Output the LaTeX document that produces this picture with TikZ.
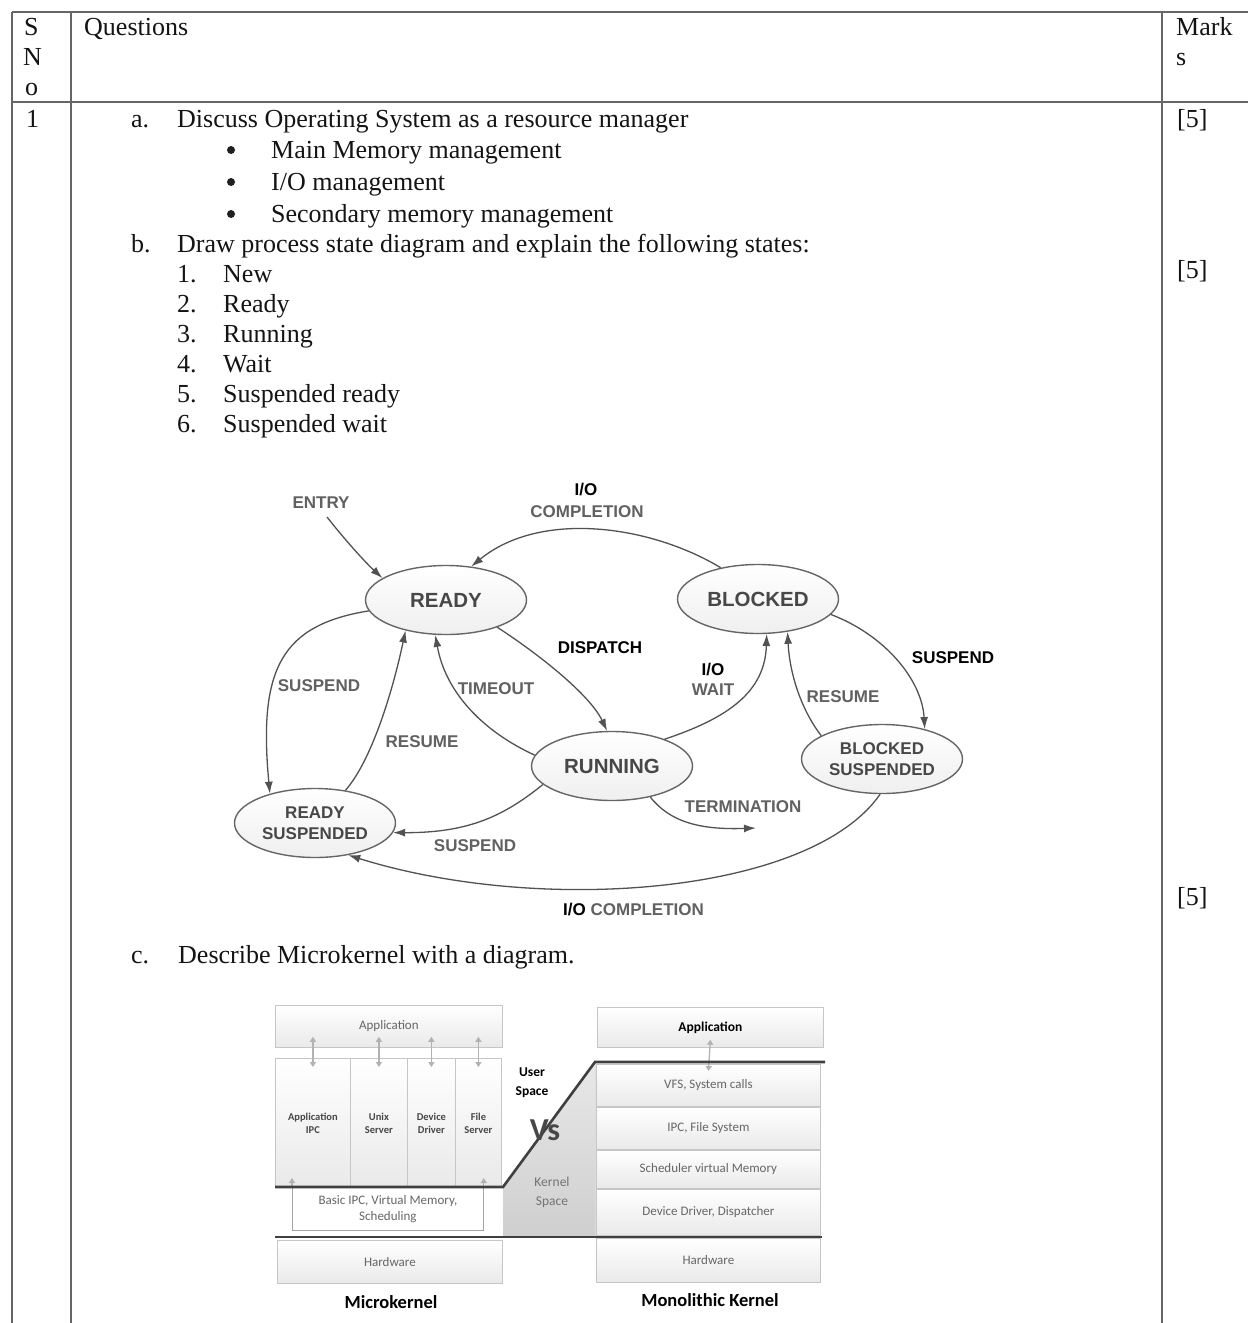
\documentclass[tikz,border=0pt]{standalone}
\usepackage{fontspec}
\setmainfont{Liberation Serif}
\newfontfamily\arialf{Liberation Sans}
\newfontfamily\calf{Carlito}
\usetikzlibrary{shapes.geometric,arrows.meta}

\begin{document}
\begin{tikzpicture}[x=1pt,y=-1pt,
  body/.style={anchor=base west, inner sep=0pt, text=black!92,
    font=\fontsize{26}{31}\selectfont},
  dot/.style={circle, fill=black!88, inner sep=0pt, minimum size=8pt},
  rule/.style={draw=black!60, line width=1.6pt},
  state/.style={ellipse, draw=black!60, line width=1.4pt, inner sep=0pt,
    top color=white, bottom color=blue!4!gray!12,
    minimum width=161pt, minimum height=69pt, align=center, text=black!72,
    font=\arialf\bfseries\fontsize{20.5}{22}\selectfont},
  substate/.style={state, font=\arialf\bfseries\fontsize{17}{21}\selectfont},
  lab/.style={inner sep=0pt, text=black!62, font=\arialf\bfseries\fontsize{17}{20}\selectfont},
  blab/.style={lab, text=black},
  arr/.style={draw=black!68, line width=1.3pt, -{Latex[length=12pt,width=8pt]}},
  layer/.style={draw=gray!45, line width=0.8pt, anchor=north west, inner sep=0pt,
    top color=white, bottom color=gray!17, text=black!60,
    font=\calf\fontsize{13}{16}\selectfont, align=center},
  colbox/.style={layer, font=\calf\bfseries\fontsize{10.5}{13}\selectfont, text=black!72},
  dbl/.style={draw=gray!60, line width=1.3pt, {Triangle[length=5pt,width=6pt]}-{Triangle[length=5pt,width=6pt]}},
  sgl/.style={draw=gray!60, line width=1.3pt, -{Triangle[length=5pt,width=6pt]}},
  divider/.style={draw=gray!50!black, line width=2.6pt}
]
\useasboundingbox (0,0) rectangle (1248,1323);
\fill[white] (0,0) rectangle (1248,1323);

% ---------- table frame ----------
\draw[rule] (12,12) -- (1248,12);
\draw[rule] (12,102) -- (1248,102);
\draw[rule] (12,12) -- (12,1323);
\draw[rule] (71,12) -- (71,1323);
\draw[rule] (1162,12) -- (1162,1323);

% header
\node[body] (hs) at (24,35) {S};
\node[body] (hn) at (23,65) {N};
\node[body] (ho) at (25,95) {o};
\node[body] (hq) at (84,35) {Questions};
\node[body] (hm) at (1176,35) {Mark};
\node[body] (hm2) at (1176,65) {s};

% row 1
\node[body] (sno) at (26,127) {1};
\node[body] (m1) at (1177,127) {[5]};
\node[body] (m2) at (1177,278) {[5]};
\node[body] (m3) at (1177,905) {[5]};

\node[body] (la) at (131,127) {a.};
\node[body] (ta) at (177,127) {Discuss Operating System as a resource manager};
\node[dot] (b1) at (231,150) {};
\node[body] (t1) at (271,158) {Main Memory management};
\node[dot] (b2) at (231,182) {};
\node[body] (t2) at (271,190) {I/O management};
\node[dot] (b3) at (231,214) {};
\node[body] (t3) at (271,222) {Secondary memory management};

\node[body] (lb) at (131,252) {b.};
\node[body] (tb) at (177,252) {Draw process state diagram and explain the following states:};
\node[body] (n1) at (177,282) {1.};  \node[body] (s1) at (223,282) {New};
\node[body] (n2) at (177,312) {2.};  \node[body] (s2) at (223,312) {Ready};
\node[body] (n3) at (177,342) {3.};  \node[body] (s3) at (223,342) {Running};
\node[body] (n4) at (177,372) {4.};  \node[body] (s4) at (223,372) {Wait};
\node[body] (n5) at (177,402) {5.};  \node[body] (s5) at (223,402) {Suspended ready};
\node[body] (n6) at (177,432) {6.};  \node[body] (s6) at (223,432) {Suspended wait};

\node[body] (lc) at (131,963) {c.};
\node[body] (tc) at (178,963) {Describe Microkernel with a diagram.};

% ---------- process state diagram ----------
\node[state] (ready) at (446,600) {READY};
\node[state] (blocked) at (758,599) {BLOCKED};
\node[state] (running) at (612,766) {RUNNING};
\node[substate] (rsus) at (315,823) {READY\\SUSPENDED};
\node[substate] (bsus) at (882,759) {BLOCKED\\SUSPENDED};

\node[lab] (entry) at (321,503) {ENTRY};
\coordinate (entrystart) at (327,517);
\coordinate (termend) at (756,828);

\draw[arr] (entrystart) .. controls (345,540) and (365,562) .. (ready.161);
\draw[arr] (blocked.140) .. controls (650,525) and (540,510) .. (ready.53);
\draw[arr] (ready.-28) .. controls (540,655) and (590,695) .. (running.98);
\draw[arr] (running.172) .. controls (480,730) and (445,690) .. (ready.-107);
\draw[arr] (ready.188) .. controls (282,625) and (258,668) .. (rsus.147);
\draw[arr] (rsus.47) .. controls (372,760) and (393,690) .. (ready.-143);
\draw[arr] (running.27) .. controls (728,718) and (765,692) .. (blocked.-76);
\draw[arr] (bsus.159) .. controls (805,715) and (790,680) .. (blocked.-48);
\draw[arr] (blocked.-12) .. controls (885,635) and (922,680) .. (bsus.35);
\draw[arr] (running.195) .. controls (505,815) and (470,833) .. (rsus.-7);
\draw[arr] (running.-39) .. controls (670,822) and (700,830) .. (termend);
\draw[arr] (bsus.-93) .. controls (810,895) and (540,915) .. (rsus.-44);

\node[blab] (io1) at (586,490) {I/O};
\node[lab] (comp1) at (587,512) {COMPLETION};
\node[blab] (disp) at (600,648) {DISPATCH};
\node[lab] (susp1) at (319,686) {SUSPEND};
\node[lab] (tout) at (496,689) {TIMEOUT};
\node[blab] (io2) at (713,670) {I/O};
\node[lab] (wait) at (713,690) {WAIT};
\node[lab] (res2) at (843,697) {RESUME};
\node[blab] (susp2) at (953,658) {SUSPEND};
\node[lab] (res1) at (422,742) {RESUME};
\node[lab] (term) at (743,807) {TERMINATION};
\node[lab] (susp3) at (475,846) {SUSPEND};
\node[lab, anchor=base west] (comp2) at (563,915) {\textcolor{black}{I/O} COMPLETION};

% ---------- microkernel vs monolithic ----------
% kernel space wedge
\fill[top color=gray!18, bottom color=gray!38] (503,1187) -- (595,1062) -- (595,1237) -- (503,1237) -- cycle;

% microkernel side
\node[layer, minimum width=227pt, minimum height=42pt] (mapp) at (275,1005) {Application};
\node[colbox, minimum width=75pt, minimum height=129pt] (ca) at (275,1058) {Application\\IPC};
\node[colbox, minimum width=57pt, minimum height=129pt] (cb) at (350,1058) {Unix\\Server};
\node[colbox, minimum width=48pt, minimum height=129pt] (cc) at (407,1058) {Device\\Driver};
\node[colbox, minimum width=46pt, minimum height=129pt] (cd) at (455,1058) {File\\Server};
\node[layer, draw=gray!70, top color=white, bottom color=white, minimum width=191pt, minimum height=43pt] (kipc) at (292,1187) {Basic IPC, Virtual Memory,\\Scheduling};
\node[layer, minimum width=225pt, minimum height=43pt] (mhw) at (277,1240) {Hardware};

\draw[dbl] ([yshift=11pt]mapp.south -| ca.north) -- ([yshift=-9pt]ca.north);
\draw[dbl] ([yshift=11pt]mapp.south -| cb.north) -- ([yshift=-9pt]cb.north);
\draw[dbl] ([yshift=11pt]mapp.south -| cc.north) -- ([yshift=-9pt]cc.north);
\draw[dbl] ([yshift=11pt]mapp.south -| cd.north) -- ([yshift=-9pt]cd.north);
\draw[sgl] (kipc.north west) -- ([yshift=9pt]kipc.north west);
\draw[sgl] (kipc.north east) -- ([yshift=9pt]kipc.north east);

% monolithic side
\node[layer, font=\calf\bfseries\fontsize{13.5}{16}\selectfont, text=black, minimum width=226pt, minimum height=40pt] (oapp) at (597,1007) {Application};
\node[layer, minimum width=224pt, minimum height=42pt] (ovfs) at (596,1064) {VFS, System calls};
\node[layer, minimum width=224pt, minimum height=42pt] (oipc) at (596,1107) {IPC, File System};
\node[layer, minimum width=224pt, minimum height=38pt] (osch) at (596,1150) {Scheduler virtual Memory};
\node[layer, minimum width=224pt, minimum height=46pt] (odev) at (596,1189) {Device Driver, Dispatcher};
\node[layer, minimum width=224pt, minimum height=44pt] (ohw) at (596,1238) {Hardware};
\draw[dbl] ([yshift=8pt]oapp.south) -- ([yshift=-7pt]ovfs.north);

% user / kernel boundaries
\draw[divider] (275,1187) -- (503,1187) -- (595,1062) -- (825,1062);
\draw[divider] (275,1237) -- (822,1237);

\node[inner sep=0pt, align=center, text=black, font=\calf\bfseries\fontsize{13.5}{19}\selectfont] (uspace) at (532,1083) {User\\Space};
\node[inner sep=0pt, text=black!72, font=\calf\bfseries\fontsize{32}{32}\selectfont] (vs) at (545,1130) {Vs};
\node[inner sep=0pt, align=center, text=black!55, font=\calf\fontsize{13.5}{19}\selectfont] (kspace) at (552,1192) {Kernel\\Space};

\node[inner sep=0pt, text=black, font=\calf\bfseries\fontsize{18.5}{20}\selectfont] (mcap) at (391,1302) {Microkernel};
\node[inner sep=0pt, text=black, font=\calf\bfseries\fontsize{18.5}{20}\selectfont] (ocap) at (710,1300) {Monolithic Kernel};
\end{tikzpicture}
\end{document}
